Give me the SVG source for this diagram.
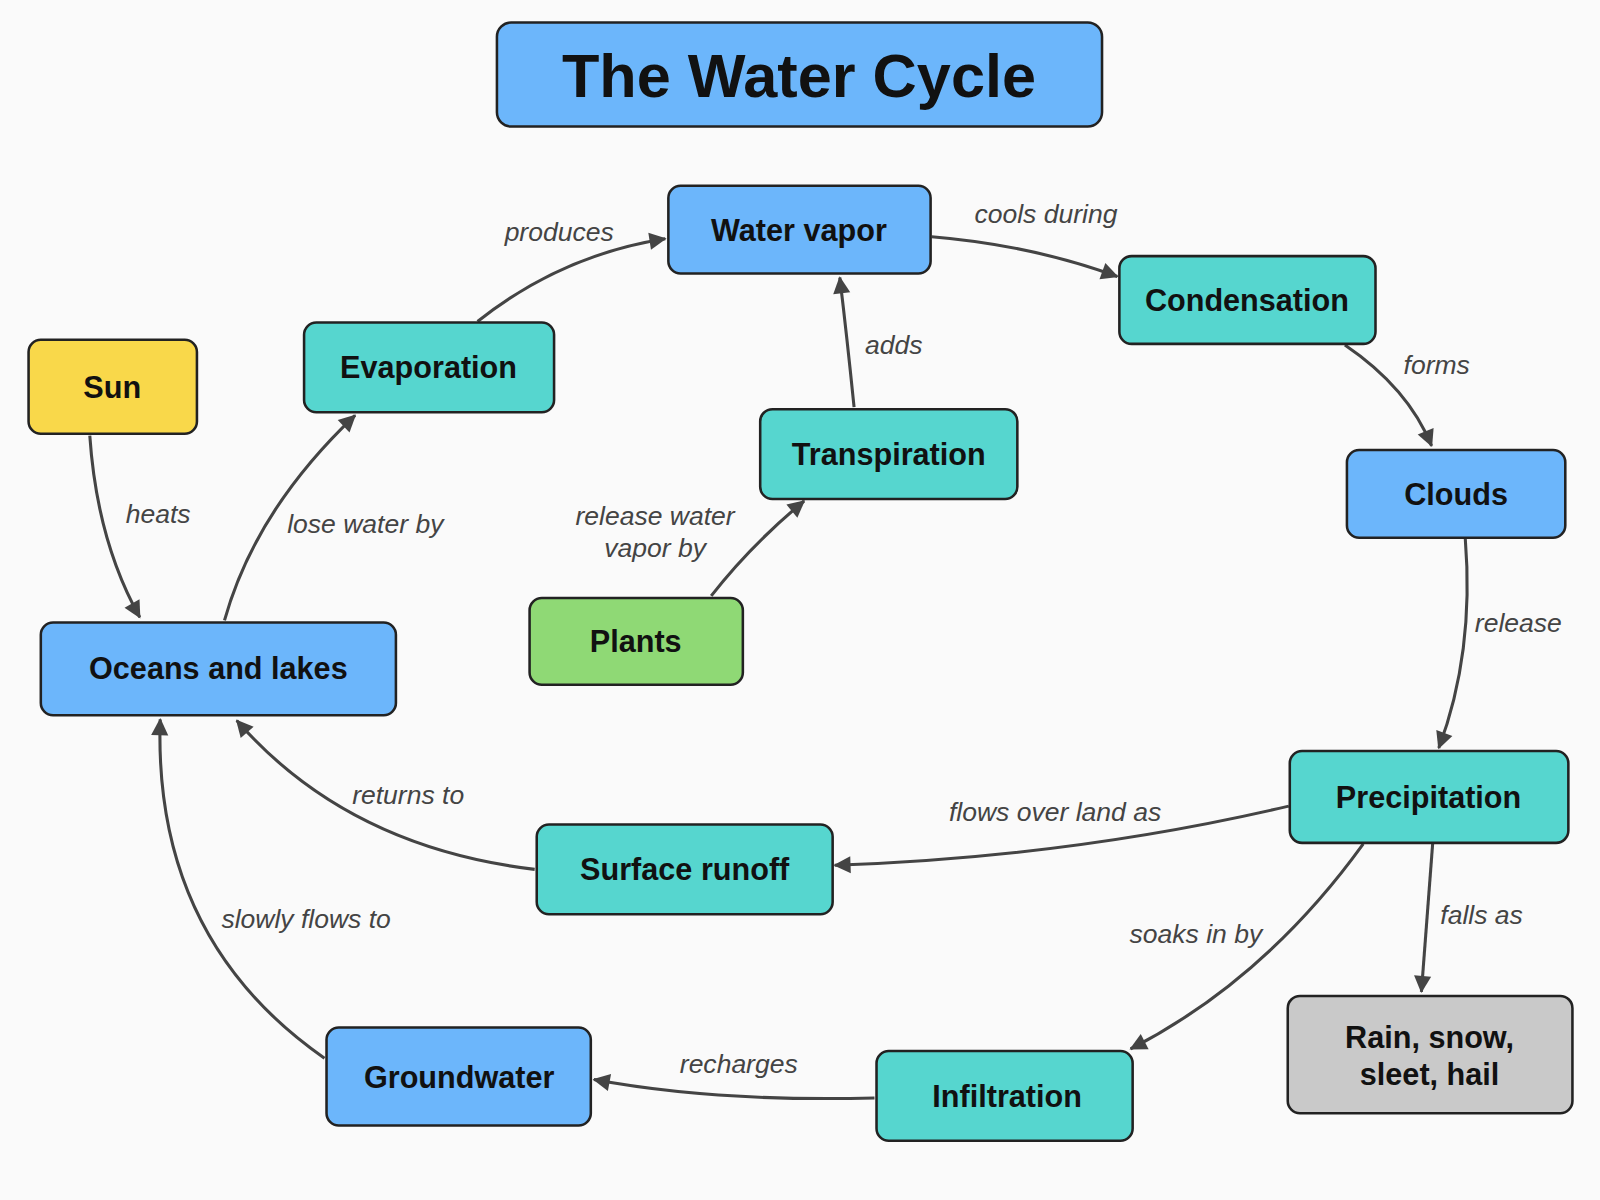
<svg xmlns="http://www.w3.org/2000/svg" width="1600" height="1200" viewBox="0 0 1600 1200">
<style>
.n{stroke:#222;stroke-width:2.5}
.b{fill:#6cb6fb}.t{fill:#56d6cf}.y{fill:#f9d84a}.g{fill:#8fd975}.r{fill:#c9c9c9}
.nt{font-family:"Liberation Sans",Arial,sans-serif;font-weight:bold;font-size:30px;fill:#111;text-anchor:middle;dominant-baseline:central}
.e{fill:none;stroke:#444;stroke-width:3;marker-end:url(#a)}
.l{font-family:"Liberation Sans",Arial,sans-serif;font-style:italic;font-size:26px;fill:#444;text-anchor:middle;dominant-baseline:central}
</style>
<defs><marker id="a" viewBox="0 0 10 10" refX="9" refY="5" markerWidth="7" markerHeight="7" markerUnits="userSpaceOnUse" orient="auto" style="overflow:visible"><path d="M0,0L10,5L0,10z" fill="#444" transform="scale(2.4) translate(-5.5,-2.9)"/></marker></defs>
<rect width="1600" height="1200" fill="#fafafa"/>
<g transform="scale(1.0204)">
<g id="title"><rect class="n b" x="487" y="22" width="593" height="102" rx="14"/><text class="nt" x="783" y="74" style="font-size:60px">The Water Cycle</text></g>
<g id="edges">
<path class="e" d="M468,315Q550,250 652,234"/><text class="l" x="548" y="227">produces</text>
<path class="e" d="M913,232Q1010,240 1095,271"/><text class="l" x="1025" y="210">cools during</text>
<path class="e" d="M1318,338Q1380,380 1403,437"/><text class="l" x="1408" y="358">forms</text>
<path class="e" d="M1436,528Q1445,640 1410,733"/><text class="l" x="1488" y="611">release</text>
<path class="e" d="M1404,827L1393,972"/><text class="l" x="1452" y="897">falls as</text>
<path class="e" d="M1336,827Q1240,960 1108,1028"/><text class="l" x="1172" y="915">soaks in by</text>
<path class="e" d="M1263,790Q1050,840 818,848"/><text class="l" x="1034" y="796">flows over land as</text>
<path class="e" d="M857,1076Q700,1080 582,1058"/><text class="l" x="724" y="1043">recharges</text>
<path class="e" d="M318,1037Q150,920 157,705"/><text class="l" x="300" y="901">slowly flows to</text>
<path class="e" d="M524,852Q340,830 232,706"/><text class="l" x="400" y="779">returns to</text>
<path class="e" d="M220,608Q250,500 348,407"/><text class="l" x="358" y="514">lose water by</text>
<path class="e" d="M88,427Q95,530 137,605"/><text class="l" x="155" y="504">heats</text>
<path class="e" d="M697,584Q735,535 788,491"/><text class="l" x="642" y="506">release water</text><text class="l" x="642" y="537">vapor by</text>
<path class="e" d="M837,399Q830,330 823,272"/><text class="l" x="876" y="338">adds</text>
</g>
<g id="water-vapor"><rect class="n b" x="655" y="182" width="257" height="86" rx="12"/><text class="nt" x="783" y="225">Water vapor</text></g>
<g id="condensation"><rect class="n t" x="1097" y="251" width="251" height="86" rx="12"/><text class="nt" x="1222" y="294">Condensation</text></g>
<g id="evaporation"><rect class="n t" x="298" y="316" width="245" height="88" rx="12"/><text class="nt" x="420" y="360">Evaporation</text></g>
<g id="sun"><rect class="n y" x="28" y="333" width="165" height="92" rx="12"/><text class="nt" x="110" y="379">Sun</text></g>
<g id="transpiration"><rect class="n t" x="745" y="401" width="252" height="88" rx="12"/><text class="nt" x="871" y="445">Transpiration</text></g>
<g id="clouds"><rect class="n b" x="1320" y="441" width="214" height="86" rx="12"/><text class="nt" x="1427" y="484">Clouds</text></g>
<g id="plants"><rect class="n g" x="519" y="586" width="209" height="85" rx="12"/><text class="nt" x="623" y="628">Plants</text></g>
<g id="oceans"><rect class="n b" x="40" y="610" width="348" height="91" rx="12"/><text class="nt" x="214" y="655">Oceans and lakes</text></g>
<g id="precipitation"><rect class="n t" x="1264" y="736" width="273" height="90" rx="12"/><text class="nt" x="1400" y="781">Precipitation</text></g>
<g id="surface-runoff"><rect class="n t" x="526" y="808" width="290" height="88" rx="12"/><text class="nt" x="671" y="852">Surface runoff</text></g>
<g id="rain"><rect class="n r" x="1262" y="976" width="279" height="115" rx="12"/><text class="nt" x="1401" y="1016">Rain, snow,</text><text class="nt" x="1401" y="1053">sleet, hail</text></g>
<g id="groundwater"><rect class="n b" x="320" y="1007" width="259" height="96" rx="12"/><text class="nt" x="450" y="1055">Groundwater</text></g>
<g id="infiltration"><rect class="n t" x="859" y="1030" width="251" height="88" rx="12"/><text class="nt" x="987" y="1074">Infiltration</text></g>
</g>
</svg>
